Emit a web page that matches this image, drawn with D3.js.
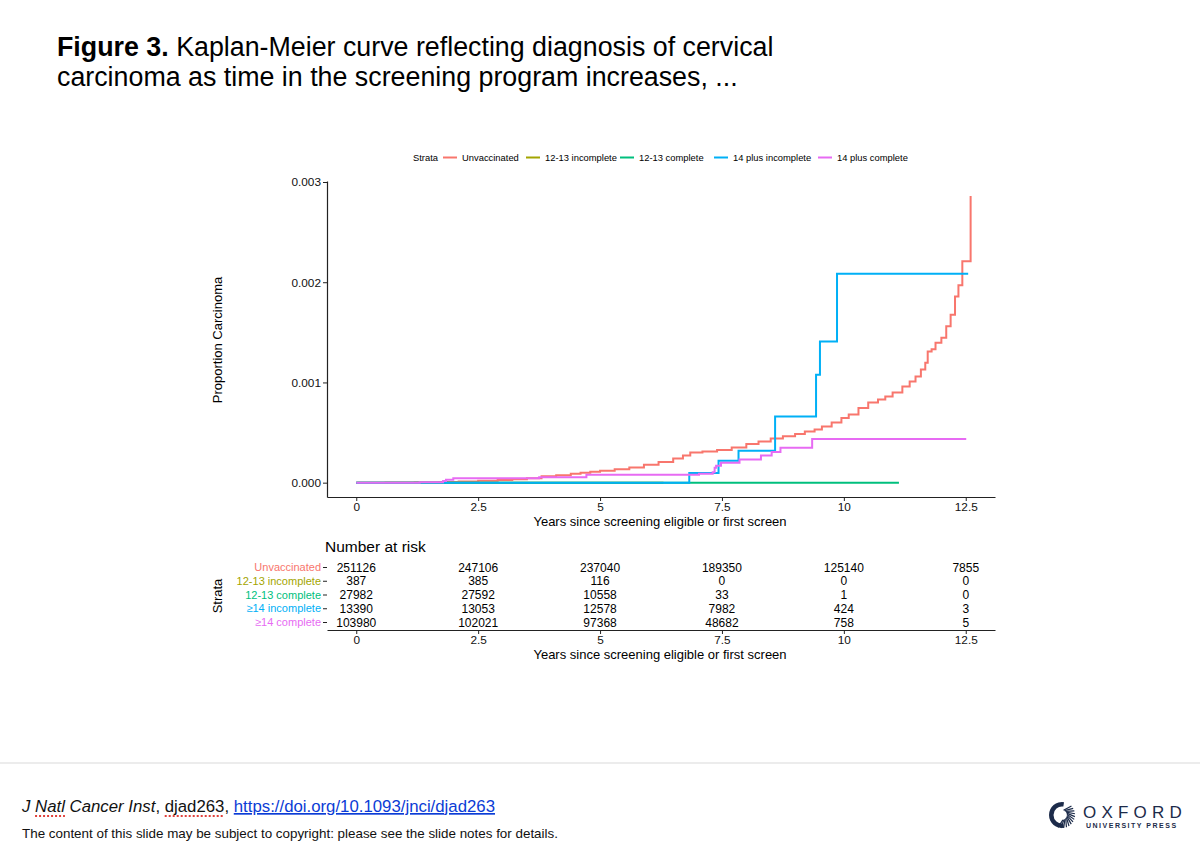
<!DOCTYPE html>
<html>
<head>
<meta charset="utf-8">
<script src="https://cdn.jsdelivr.net/npm/d3@7"></script>
<style>
	body { margin: 0; background: #fff; }
	svg text { font-family: "Liberation Sans", Arial, sans-serif; }
</style>
</head>
<body>
<svg id="slide" width="1200" height="853"></svg>
<script>
/* ----------------------------------------------------- */
/* ------------------------ DATA ----------------------- */
/* ----------------------------------------------------- */

const strataNames = ["Unvaccinated", "12-13 incomplete", "12-13 complete", "14 plus incomplete", "14 plus complete"];
const tableNames = ["Unvaccinated", "12-13 incomplete", "12-13 complete", "\u226514 incomplete", "\u226514 complete"];
const strataColors = ["#F8766D", "#A3A500", "#00BF7D", "#00B0F6", "#E76BF3"];

// [years, cumulative proportion]
const curveUnvaccinated = [
	[0, 0], [0.6, 0.000002], [1.2, 0.000004], [1.7, 0.000007], [2.1, 0.000012], [2.5, 0.000018],
	[2.9, 0.000026], [3.2, 0.000033], [3.5, 0.000045], [3.8, 0.000063], [4.1, 0.000075],
	[4.4, 0.000088], [4.6, 0.0001], [4.8, 0.000108], [5.0, 0.000118], [5.3, 0.000135],
	[5.6, 0.000152], [5.9, 0.00018], [6.2, 0.000205], [6.5, 0.00024], [6.7, 0.00027],
	[6.85, 0.0003], [7.1, 0.00031], [7.4, 0.000325], [7.7, 0.00035], [8.0, 0.000385],
	[8.25, 0.00041], [8.5, 0.00044], [8.75, 0.000462], [9.0, 0.000485], [9.2, 0.00051],
	[9.4, 0.00053], [9.55, 0.00056], [9.75, 0.0006], [9.95, 0.000645], [10.1, 0.00068],
	[10.3, 0.000745], [10.5, 0.0008], [10.7, 0.00083], [10.85, 0.00086], [11.0, 0.0009],
	[11.2, 0.00096], [11.35, 0.00101], [11.47, 0.00106], [11.58, 0.00113], [11.67, 0.001196],
	[11.72, 0.00131], [11.8, 0.00133], [11.88, 0.001396], [12.0, 0.001445], [12.1, 0.00156],
	[12.19, 0.001675], [12.28, 0.001857], [12.35, 0.00197], [12.43, 0.00221], [12.6, 0.00286]
];
const curveIncomplete1213 = [[0, 0], [6.3, 0]];
const curveComplete1213 = [[0, 0], [11.13, 0]];
const curveIncomplete14 = [
	[0, 0], [6.83, 0.000097], [7.43, 0.000219], [7.84, 0.000319], [8.59, 0.000661],
	[9.43, 0.001077], [9.51, 0.001409], [9.86, 0.002084], [12.55, 0.002084]
];
const curveComplete14 = [
	[0, 0], [1.3, 0.000005], [1.78, 0.000017], [1.84, 0.00003], [1.99, 0.000043],
	[3.75, 0.000055], [4.72, 0.00008], [7.03, 0.00009], [7.31, 0.000105], [7.35, 0.00015],
	[7.38, 0.00017], [7.48, 0.000199], [7.86, 0.000232], [8.3, 0.000272], [8.52, 0.000306],
	[8.7, 0.000349], [9.35, 0.000435], [12.51, 0.000435]
];
const curves = [curveUnvaccinated, curveIncomplete1213, curveComplete1213, curveIncomplete14, curveComplete14];

const xTicks = [0, 2.5, 5, 7.5, 10, 12.5];
const yTicks = [0, 0.001, 0.002, 0.003];

// number at risk, one row per stratum, columns at xTicks
const riskUnvaccinated = [251126, 247106, 237040, 189350, 125140, 7855];
const riskIncomplete1213 = [387, 385, 116, 0, 0, 0];
const riskComplete1213 = [27982, 27592, 10558, 33, 1, 0];
const riskIncomplete14 = [13390, 13053, 12578, 7982, 424, 3];
const riskComplete14 = [103980, 102021, 97368, 48682, 758, 5];
const riskRows = [riskUnvaccinated, riskIncomplete1213, riskComplete1213, riskIncomplete14, riskComplete14];

/* ----------------------------------------------------- */
/* ----------------------- SLIDE ----------------------- */
/* ----------------------------------------------------- */

let svg = d3.select("#slide");
let axisColor = "#222";

let title = svg.append("text")
	.attr("x", 57).attr("y", 56)
	.attr("font-size", 26.8).attr("fill", "#000");
title.append("tspan").attr("font-weight", "bold").text("Figure 3.");
title.append("tspan").text(" Kaplan-Meier curve reflecting diagnosis of cervical");
svg.append("text")
	.attr("x", 57).attr("y", 86)
	.attr("font-size", 26.8).attr("fill", "#000")
	.text("carcinoma as time in the screening program increases, ...");

/* ----------------------------------------------------- */
/* ------------------------ PLOT ----------------------- */
/* ----------------------------------------------------- */

let x = d3.scaleLinear().domain([-0.6, 13.1]).range([327, 995]);
let y = d3.scaleLinear().domain([-0.000143, 0.00301]).range([497, 181]);

let plot = svg.append("g");

plot.append("g")
	.attr("transform", "translate(0,497)")
	.call(d3.axisBottom(x).tickValues(xTicks).tickFormat(function (d) { return d; })
		.tickSize(4).tickSizeOuter(0).tickPadding(2))
	.call(styleAxis);

plot.append("g")
	.attr("transform", "translate(327,0)")
	.call(d3.axisLeft(y).tickValues(yTicks).tickFormat(d3.format(".3f"))
		.tickSize(4).tickSizeOuter(0).tickPadding(2))
	.call(styleAxis);

plot.append("text")
	.attr("x", 660).attr("y", 526)
	.attr("text-anchor", "middle").attr("font-size", 13).attr("fill", "#000")
	.text("Years since screening eligible or first screen");

plot.append("text")
	.attr("transform", "translate(222,340) rotate(-90)")
	.attr("text-anchor", "middle").attr("font-size", 13).attr("fill", "#000")
	.text("Proportion Carcinoma");

let line = d3.line()
	.x(function (d) { return x(d[0]); })
	.y(function (d) { return y(d[1]); })
	.curve(d3.curveStepAfter);

plot.selectAll(".km")
	.data(curves)
	.enter().append("path")
	.attr("class", "km")
	.attr("d", line)
	.attr("fill", "none")
	.attr("stroke", function (d, i) { return strataColors[i]; })
	.attr("stroke-width", 2);

/* legend */
let legend = svg.append("g").attr("font-size", 9.4).attr("fill", "#000");
legend.append("text").attr("x", 413).attr("y", 160.5).text("Strata");
let legendX = [443, 526, 620, 714, 818];
strataNames.forEach(function (name, i) {
	legend.append("line")
		.attr("x1", legendX[i]).attr("x2", legendX[i] + 14)
		.attr("y1", 157.5).attr("y2", 157.5)
		.attr("stroke", strataColors[i]).attr("stroke-width", 2);
	legend.append("text")
		.attr("x", legendX[i] + 19).attr("y", 160.5)
		.text(name);
});

/* ----------------------------------------------------- */
/* ------------------- RISK TABLE ---------------------- */
/* ----------------------------------------------------- */

let rowY = d3.scalePoint().domain(d3.range(5)).range([567, 622]);
let table = svg.append("g");

table.append("text")
	.attr("x", 325).attr("y", 552)
	.attr("font-size", 15.5).attr("fill", "#000")
	.text("Number at risk");

riskRows.forEach(function (row, i) {
	table.selectAll(".risk" + i)
		.data(row)
		.enter().append("text")
		.attr("x", function (d, j) { return x(xTicks[j]); })
		.attr("y", rowY(i) + 4.5)
		.attr("text-anchor", "middle").attr("font-size", 12).attr("fill", "#000")
		.text(function (d) { return d; });
});

table.append("g")
	.attr("transform", "translate(327,0)")
	.call(d3.axisLeft(rowY).tickFormat(function (d) { return tableNames[d]; })
		.tickSize(4).tickSizeOuter(0).tickPadding(2))
	.call(function (g) {
		g.select(".domain").remove();
		g.selectAll("line").attr("stroke", axisColor);
		g.selectAll("text")
			.attr("font-size", 11).attr("font-family", null)
			.attr("fill", function (d) { return strataColors[d]; });
	});

table.append("g")
	.attr("transform", "translate(0,630)")
	.call(d3.axisBottom(x).tickValues(xTicks).tickFormat(function (d) { return d; })
		.tickSize(4).tickSizeOuter(0).tickPadding(2))
	.call(styleAxis);

table.append("text")
	.attr("x", 660).attr("y", 659)
	.attr("text-anchor", "middle").attr("font-size", 13).attr("fill", "#000")
	.text("Years since screening eligible or first screen");

table.append("text")
	.attr("transform", "translate(222,596) rotate(-90)")
	.attr("text-anchor", "middle").attr("font-size", 13).attr("fill", "#000")
	.text("Strata");

function styleAxis(g){
	g.select(".domain").attr("stroke", axisColor).attr("stroke-width", 1.2);
	g.selectAll(".tick line").attr("stroke", axisColor);
	g.selectAll(".tick text").attr("font-size", 11.8).attr("font-family", null).attr("fill", "#111");
}

/* ----------------------------------------------------- */
/* ----------------------- FOOTER ---------------------- */
/* ----------------------------------------------------- */

svg.append("line")
	.attr("x1", 0).attr("x2", 1200).attr("y1", 763).attr("y2", 763)
	.attr("stroke", "#d9d9d9");

let cite = svg.append("text")
	.attr("x", 22).attr("y", 812)
	.attr("font-size", 16.8).attr("fill", "#111");
cite.append("tspan").attr("font-style", "italic").text("J Natl Cancer Inst");
cite.append("tspan").text(", djad263, ");
cite.append("tspan").attr("fill", "#0b3cd6").attr("text-decoration", "underline")
	.text("https://doi.org/10.1093/jnci/djad263");

// spell-check squiggles under "Natl" and "djad263"
let citeNode = cite.node();
[[2, 4], [20, 7]].forEach(function (r) {
	let x0 = 22 + citeNode.getSubStringLength(0, r[0]);
	let w = citeNode.getSubStringLength(r[0], r[1]);
	svg.append("line")
		.attr("x1", x0).attr("x2", x0 + w).attr("y1", 816).attr("y2", 816)
		.attr("stroke", "#e0403a").attr("stroke-width", 2).attr("stroke-dasharray", "2,2");
});

svg.append("text")
	.attr("x", 22).attr("y", 838)
	.attr("font-size", 13.4).attr("fill", "#111")
	.text("The content of this slide may be subject to copyright: please see the slide notes for details.");

/* Oxford University Press logo */
let logo = svg.append("g").attr("fill", "#1c2b4a");
logo.append("path")
	.attr("d", d3.arc().innerRadius(8.5).outerRadius(13).startAngle(Math.PI * 0.95).endAngle(Math.PI * 2.05)())
	.attr("transform", "translate(1062,815)");
d3.range(0.1, 0.95, 0.07).forEach(function (a) {
	let ang = a * Math.PI;
	logo.append("line")
		.attr("x1", 1062 + Math.sin(ang) * 5).attr("y1", 815 - Math.cos(ang) * 5)
		.attr("x2", 1062 + Math.sin(ang + 0.5) * 13).attr("y2", 815 - Math.cos(ang + 0.5) * 13)
		.attr("stroke", "#1c2b4a").attr("stroke-width", 1.2);
});
logo.append("text")
	.attr("x", 1083).attr("y", 818)
	.attr("font-size", 17).attr("letter-spacing", 5.2)
	.text("OXFORD");
logo.append("text")
	.attr("x", 1086).attr("y", 828)
	.attr("font-size", 7).attr("font-weight", "bold").attr("letter-spacing", 1.5)
	.text("UNIVERSITY PRESS");
</script>
</body>
</html>
